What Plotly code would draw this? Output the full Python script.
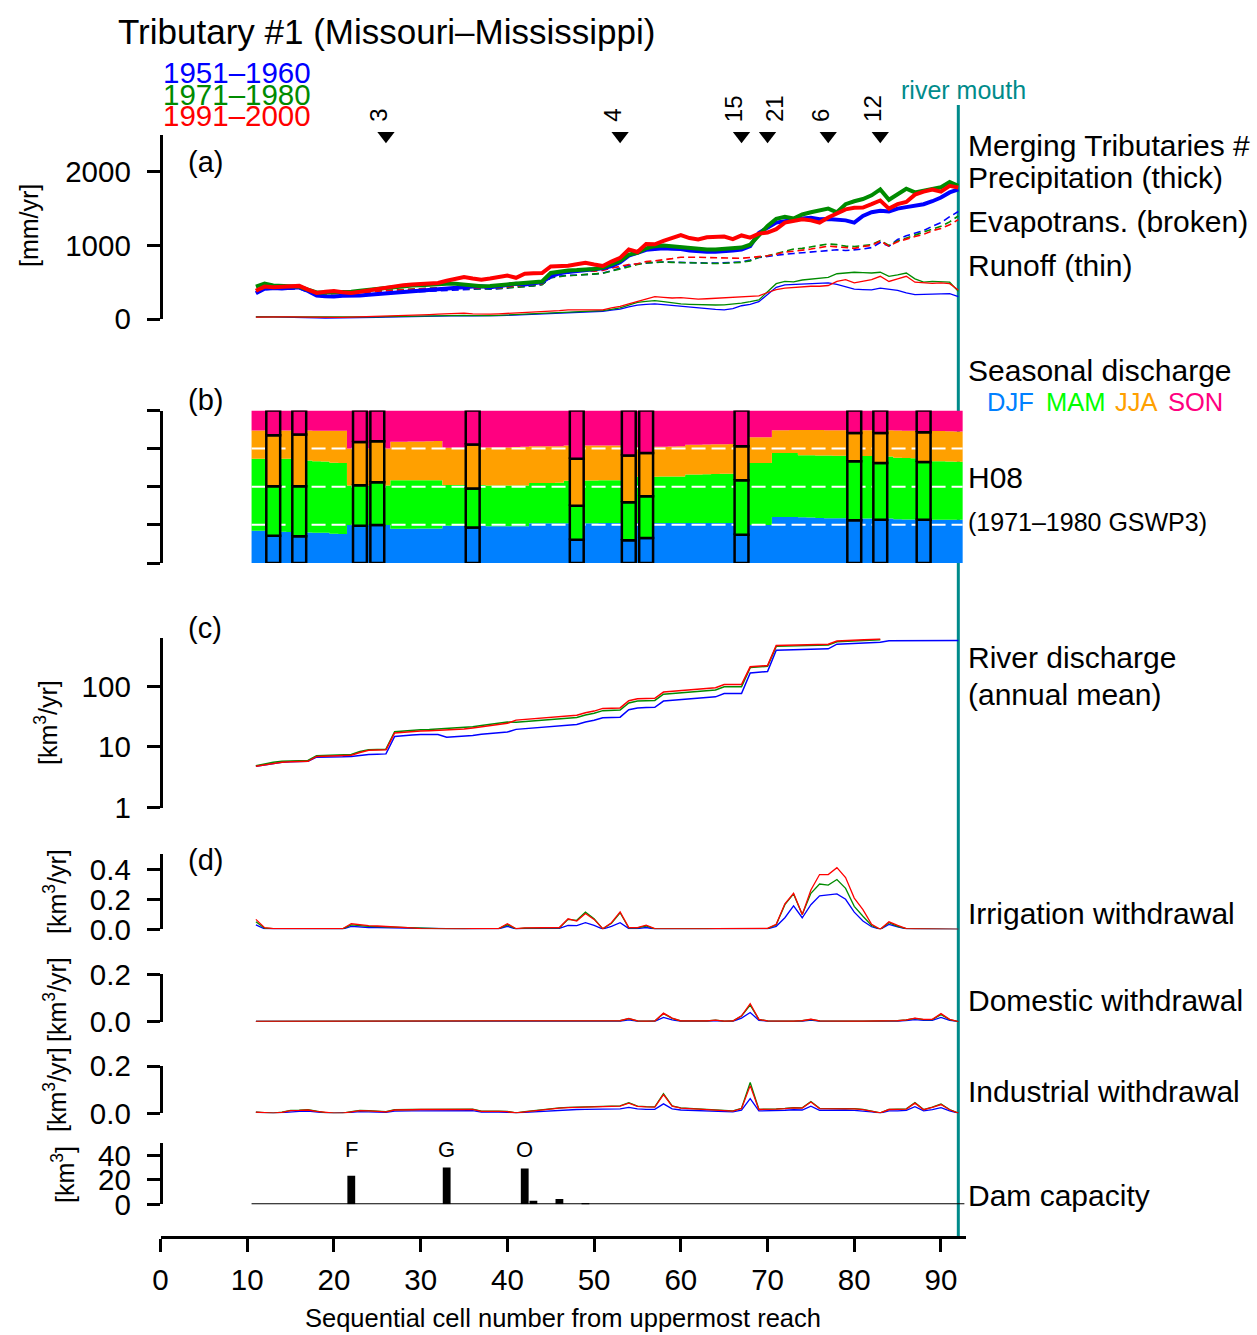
import plotly.graph_objects as go

W, H = 1257, 1335
FONT = "Liberation Sans, Arial, Helvetica, sans-serif"


def px(x):
    return x / W


def py(y):
    return 1 - y / H


# ---------------------------------------------------------------- data
cells = list(range(11, 93))          # sequential cell number (main stem)
river_mouth_cell = 92

period_labels = ["1951–1960", "1971–1980", "1991–2000"]
period_colors = ["#0000FF", "#008B00", "#FF0000"]

# (a) precipitation [mm/yr] (thick)
precip_1951 = [350, 410, 420, 415, 425, 430, 380, 320, 310, 305,
               315, 315, 320, 330, 340, 350, 360, 370, 380, 380,
               390, 400, 410, 420, 430, 440, 445, 430, 445, 460,
               480, 470, 480, 500, 580, 620, 640, 650, 660, 670,
               690, 720, 770, 860, 900, 940, 950, 960, 955, 950,
               930, 920, 915, 915, 920, 930, 945, 990, 1170, 1240,
               1310, 1330, 1350, 1365, 1375, 1355, 1360, 1350, 1340, 1310,
               1400, 1450, 1470, 1460, 1500, 1520, 1545, 1560, 1600, 1650,
               1720, 1760]
precip_1971 = [440, 480, 455, 450, 445, 440, 400, 360, 360, 360,
               365, 370, 385, 400, 410, 420, 430, 445, 455, 460,
               470, 480, 480, 480, 470, 455, 445, 450, 460, 470,
               490, 495, 505, 510, 625, 645, 660, 665, 670, 680,
               700, 740, 790, 875, 900, 960, 990, 1000, 990, 970,
               960, 950, 945, 945, 950, 960, 970, 1010, 1130, 1265,
               1360, 1390, 1365, 1420, 1450, 1470, 1500, 1450, 1560, 1600,
               1630, 1680, 1760, 1620, 1700, 1770, 1720, 1740, 1770, 1790,
               1860, 1810]
precip_1991 = [383, 440, 430, 440, 445, 450, 400, 355, 370, 380,
               365, 355, 370, 390, 400, 420, 445, 460, 470, 480,
               485, 490, 520, 550, 570, 550, 535, 550, 570, 590,
               560, 615, 620, 625, 715, 720, 725, 745, 765, 740,
               720, 780, 830, 945, 910, 1020, 1015, 1060, 1100, 1140,
               1100, 1080, 1110, 1115, 1120, 1085, 1135, 1105, 1160, 1175,
               1220, 1310, 1330, 1355, 1340, 1310, 1380, 1440, 1490, 1510,
               1515, 1560, 1610, 1500, 1560, 1590, 1690, 1730, 1760, 1730,
               1810, 1785]

# (a) evapotranspiration [mm/yr] (broken)
evap_1951 = [350, 400, 405, 400, 405, 410, 370, 320, 315, 310,
             315, 315, 320, 330, 340, 350, 355, 365, 370, 375,
             380, 385, 390, 400, 405, 410, 410, 405, 410, 420,
             435, 440, 450, 470, 560, 585, 595, 600, 605, 610,
             625, 655, 690, 730, 750, 765, 770, 775, 770, 768,
             765, 762, 760, 760, 762, 765, 775, 800, 835, 850,
             870, 880, 890, 900, 905, 920, 935, 940, 930, 935,
             950, 970, 1040, 990, 1080, 1130, 1160, 1200, 1260, 1310,
             1390, 1460]
evap_1971 = [390, 440, 425, 420, 420, 425, 390, 345, 345, 345,
             350, 355, 365, 375, 385, 390, 395, 400, 410, 415,
             420, 425, 425, 425, 420, 410, 405, 410, 415, 420,
             435, 440, 450, 465, 560, 580, 590, 595, 600, 605,
             620, 650, 680, 720, 740, 760, 770, 775, 770, 765,
             760, 758, 755, 755, 758, 760, 770, 790, 840, 860,
             890, 930, 950, 960, 980, 1000, 1020, 1010, 990, 985,
             995, 1010, 1065, 1000, 1060, 1100, 1130, 1170, 1220, 1260,
             1320, 1400]
evap_1991 = [370, 420, 415, 420, 425, 430, 390, 340, 340, 345,
             345, 345, 355, 365, 375, 385, 395, 400, 405, 410,
             415, 420, 425, 430, 430, 420, 415, 420, 425, 440,
             450, 460, 470, 480, 600, 630, 640, 650, 655, 650,
             660, 690, 715, 740, 750, 780, 790, 800, 820, 840,
             845, 840, 835, 830, 825, 820, 825, 835, 845, 860,
             880, 910, 920, 930, 950, 970, 990, 980, 965, 960,
             985, 1000, 1060, 990, 1050, 1090, 1120, 1150, 1200, 1230,
             1280, 1350]

# (a) runoff [mm/yr] (thin)
runoff_1951 = [30, 32, 28, 25, 25, 22, 20, 15, 12, 12,
               15, 15, 18, 20, 22, 25, 28, 30, 32, 35,
               38, 40, 42, 45, 45, 42, 40, 42, 45, 50,
               55, 58, 62, 68, 80, 85, 90, 92, 95, 98,
               105, 120, 135, 165, 190, 200, 205, 195, 183, 175,
               165, 150, 140, 130, 125, 140, 180, 200, 235, 330,
               430, 465, 470, 475, 480, 480, 490, 470, 440, 405,
               400, 395, 420, 400, 390, 355, 330, 335, 340, 345,
               345, 305]
runoff_1971 = [30, 35, 30, 28, 28, 25, 22, 20, 20, 20,
               22, 22, 25, 28, 30, 32, 35, 38, 40, 42,
               45, 48, 50, 52, 50, 45, 42, 45, 50, 55,
               65, 68, 72, 78, 90, 95, 100, 100, 105, 108,
               115, 130, 150, 190, 225, 240, 250, 235, 215, 205,
               200, 195, 190, 190, 192, 200, 215, 235, 260, 370,
               480, 510, 505, 530, 545, 550, 565, 615, 625, 635,
               630, 625, 635, 580, 600, 625, 545, 500, 510, 510,
               500, 375]
runoff_1991 = [25, 30, 30, 30, 28, 25, 22, 20, 20, 22,
               22, 25, 28, 30, 32, 35, 40, 45, 50, 55,
               60, 65, 70, 75, 80, 70, 65, 65, 70, 75,
               85, 85, 90, 95, 105, 115, 125, 125, 130, 120,
               125, 150, 170, 205, 240, 270, 305, 295, 285, 290,
               280, 270, 275, 280, 285, 290, 305, 300, 315, 360,
               400, 420, 430, 440, 445, 445, 455, 510, 535, 490,
               510, 535, 580, 510, 545, 580, 500, 490, 485, 490,
               480, 395]

# merging tributaries (triangles)
merge_cells = [26, 53, 67, 70, 77, 83]
merge_ids = ["3", "4", "15", "21", "6", "12"]

# (b) seasonal discharge shares of the main stem (cumulative from bottom)
cum_djf = [0.212, 0.212, 0.211, 0.205, 0.204, 0.203, 0.200, 0.199, 0.198, 0.191,
           0.190, 0.249, 0.249, 0.249, 0.249, 0.249, 0.225, 0.225, 0.225, 0.226,
           0.226, 0.226, 0.245, 0.245, 0.245, 0.245, 0.245, 0.241, 0.241, 0.241,
           0.241, 0.241, 0.260, 0.260, 0.260, 0.260, 0.260, 0.260, 0.260, 0.260,
           0.263, 0.263, 0.263, 0.263, 0.263, 0.263, 0.263, 0.263, 0.263, 0.263,
           0.263, 0.263, 0.263, 0.263, 0.263, 0.263, 0.249, 0.249, 0.249, 0.249,
           0.302, 0.302, 0.301, 0.300, 0.299, 0.295, 0.294, 0.294, 0.293, 0.293,
           0.292, 0.292, 0.291, 0.291, 0.287, 0.286, 0.286, 0.285, 0.284, 0.284,
           0.284, 0.283]
cum_djf_mam = [0.683, 0.683, 0.683, 0.683, 0.683, 0.682, 0.672, 0.668, 0.665, 0.657,
               0.655, 0.508, 0.508, 0.508, 0.508, 0.508, 0.543, 0.543, 0.543, 0.543,
               0.543, 0.543, 0.512, 0.512, 0.512, 0.512, 0.512, 0.508, 0.508, 0.508,
               0.508, 0.508, 0.525, 0.525, 0.525, 0.527, 0.540, 0.540, 0.541, 0.541,
               0.542, 0.542, 0.543, 0.565, 0.565, 0.566, 0.566, 0.567, 0.568, 0.568,
               0.580, 0.581, 0.582, 0.584, 0.585, 0.586, 0.595, 0.656, 0.656, 0.656,
               0.722, 0.722, 0.721, 0.707, 0.706, 0.705, 0.705, 0.704, 0.703, 0.702,
               0.702, 0.701, 0.700, 0.699, 0.690, 0.688, 0.687, 0.686, 0.668, 0.667,
               0.665, 0.664]
cum_djf_mam_jja = [0.869, 0.869, 0.869, 0.869, 0.869, 0.869, 0.869, 0.868, 0.868, 0.868,
                   0.867, 0.750, 0.750, 0.750, 0.750, 0.750, 0.795, 0.795, 0.796, 0.797,
                   0.799, 0.800, 0.755, 0.755, 0.755, 0.755, 0.755, 0.757, 0.758, 0.758,
                   0.760, 0.762, 0.766, 0.766, 0.766, 0.766, 0.770, 0.770, 0.770, 0.770,
                   0.770, 0.770, 0.770, 0.760, 0.760, 0.761, 0.762, 0.763, 0.764, 0.765,
                   0.775, 0.776, 0.777, 0.778, 0.779, 0.780, 0.788, 0.825, 0.825, 0.825,
                   0.871, 0.871, 0.872, 0.872, 0.872, 0.872, 0.871, 0.871, 0.871, 0.870,
                   0.870, 0.870, 0.870, 0.870, 0.869, 0.868, 0.868, 0.867, 0.866, 0.865,
                   0.864, 0.862]
season_names = ["DJF", "MAM", "JJA", "SON"]
season_colors = ["#0080FF", "#00FF00", "#FFA000", "#FF0080"]

# (b) merging tributaries: seasonal shares (cumulative from bottom)
trib_cells = [13, 16, 23, 25, 36, 48, 54, 56, 67, 80, 83, 88]
trib_djf = [0.179, 0.175, 0.245, 0.249, 0.232, 0.153, 0.149, 0.164, 0.186, 0.280, 0.284, 0.284]
trib_djf_mam = [0.503, 0.503, 0.510, 0.530, 0.488, 0.376, 0.398, 0.438, 0.543, 0.667, 0.656, 0.663]
trib_djf_mam_jja = [0.838, 0.842, 0.794, 0.799, 0.777, 0.683, 0.705, 0.722, 0.766, 0.853, 0.853, 0.858]

# (c) river discharge, annual mean [km3/yr]
discharge_1951 = [4.8, 5.1, 5.4, 5.6, 5.7, 5.8, 5.8, 6.8, 6.8, 6.8,
                  6.9, 7.0, 7.3, 7.5, 7.6, 7.7, 14.9, 15.5, 15.8, 16.0,
                  16.0, 16.0, 14.5, 14.7, 14.9, 15.5, 16.2, 16.8, 17.2, 17.6,
                  19.5, 20.0, 20.5, 21.0, 21.4, 21.8, 22.5, 23.5, 25.7, 27.5,
                  30.4, 30.8, 31.0, 41.0, 44.0, 44.5, 45.0, 57.0, 58.5, 60.0,
                  61.0, 62.0, 64.0, 67.0, 76.0, 76.0, 76.0, 166, 170, 175,
                  393, 396, 400, 403, 406, 410, 413, 494, 500, 505,
                  510, 520, 530, 561, 561, 562, 562, 563, 563, 564,
                  564, 565]
discharge_1971 = [4.9, 5.3, 5.6, 5.8, 5.9, 6.0, 6.0, 7.2, 7.3, 7.3,
                  7.4, 7.5, 8.4, 9.0, 9.1, 9.2, 17.9, 18.4, 18.9, 19.2,
                  19.4, 19.7, 20.0, 20.3, 20.7, 21.5, 22.6, 23.6, 24.7, 25.7,
                  25.5, 26.1, 26.8, 27.4, 28.0, 28.5, 29.4, 30.7, 33.6, 35.9,
                  39.7, 40.2, 40.5, 53.2, 57.0, 57.7, 58.4, 74.0, 75.9, 77.8,
                  79.1, 80.4, 83.0, 86.9, 98.4, 98.4, 98.4, 203, 208, 213,
                  454, 457, 462, 466, 469, 473, 476, 541, 548, 554,
                  559, 570, 581, None, None, None, None, None, None, None,
                  None, None]
discharge_1991 = [4.8, 5.1, 5.4, 5.6, 5.7, 5.8, 5.8, 7.0, 7.1, 7.1,
                  7.2, 7.3, 8.1, 8.8, 8.9, 9.0, 17.0, 17.5, 18.0, 18.3,
                  18.5, 18.8, 19.0, 19.3, 19.7, 20.5, 21.5, 22.5, 23.5, 24.5,
                  27.7, 28.4, 29.1, 29.8, 30.4, 31.0, 32.0, 33.4, 36.5, 39.0,
                  43.2, 43.7, 44.0, 57.8, 62.0, 62.7, 63.5, 80.4, 82.5, 84.6,
                  86.0, 87.4, 90.2, 94.5, 107, 107, 107, 209, 214, 220,
                  468, 471, 476, 480, 483, 488, 491, 558, 565, 571,
                  576, 588, 599, None, None, None, None, None, None, None,
                  None, None]

# (d) irrigation withdrawal [km3/yr]
irrig_1951 = [0.030, 0.003, 0.002, 0.002, 0.002, 0.002, 0.002, 0.001, 0.001, 0.001,
              0.002, 0.020, 0.015, 0.012, 0.011, 0.010, 0.009, 0.006, 0.005, 0.003,
              0.002, 0.002, 0.002, 0.002, 0.002, 0.002, 0.002, 0.002, 0.003, 0.020,
              0.002, 0.005, 0.006, 0.005, 0.005, 0.006, 0.026, 0.024, 0.044, 0.026,
              0.002, 0.020, 0.044, 0.005, 0.005, 0.012, 0.002, 0.002, 0.002, 0.002,
              0.002, 0.002, 0.002, 0.002, 0.002, 0.002, 0.002, 0.002, 0.002, 0.003,
              0.020, 0.077, 0.157, 0.077, 0.164, 0.223, 0.229, 0.236, 0.200, 0.114,
              0.055, 0.017, 0.000, 0.033, 0.017, 0.003, 0.002, 0.002, 0.001, 0.001,
              0.001, 0.000]
irrig_1971 = [0.050, 0.008, 0.004, 0.004, 0.003, 0.004, 0.003, 0.003, 0.002, 0.002,
              0.003, 0.030, 0.024, 0.020, 0.018, 0.016, 0.015, 0.010, 0.008, 0.004,
              0.003, 0.003, 0.003, 0.003, 0.003, 0.003, 0.003, 0.003, 0.004, 0.030,
              0.003, 0.008, 0.009, 0.008, 0.008, 0.010, 0.066, 0.060, 0.114, 0.070,
              0.003, 0.040, 0.110, 0.009, 0.009, 0.022, 0.003, 0.003, 0.003, 0.003,
              0.003, 0.003, 0.003, 0.003, 0.003, 0.003, 0.003, 0.003, 0.003, 0.005,
              0.030, 0.164, 0.236, 0.098, 0.240, 0.302, 0.295, 0.332, 0.273, 0.153,
              0.087, 0.025, 0.000, 0.044, 0.020, 0.004, 0.003, 0.003, 0.002, 0.001,
              0.001, 0.000]
irrig_1991 = [0.066, 0.011, 0.005, 0.005, 0.004, 0.005, 0.004, 0.003, 0.003, 0.003,
              0.004, 0.037, 0.028, 0.024, 0.022, 0.020, 0.018, 0.012, 0.010, 0.005,
              0.004, 0.004, 0.003, 0.003, 0.003, 0.004, 0.004, 0.003, 0.005, 0.037,
              0.004, 0.010, 0.011, 0.010, 0.009, 0.012, 0.070, 0.055, 0.105, 0.066,
              0.004, 0.044, 0.116, 0.011, 0.011, 0.028, 0.004, 0.003, 0.003, 0.004,
              0.004, 0.004, 0.003, 0.004, 0.004, 0.003, 0.003, 0.003, 0.004, 0.006,
              0.033, 0.170, 0.240, 0.098, 0.262, 0.365, 0.365, 0.411, 0.345, 0.208,
              0.131, 0.033, 0.000, 0.050, 0.026, 0.004, 0.003, 0.003, 0.002, 0.001,
              0.001, 0.000]

# (d) domestic withdrawal [km3/yr]
domestic_1951 = [0.001, 0.001, 0.001, 0.001, 0.001, 0.001, 0.001, 0.001, 0.001, 0.001,
                 0.001, 0.001, 0.001, 0.001, 0.001, 0.001, 0.001, 0.001, 0.001, 0.001,
                 0.001, 0.001, 0.001, 0.001, 0.001, 0.002, 0.001, 0.001, 0.001, 0.001,
                 0.001, 0.001, 0.001, 0.001, 0.001, 0.001, 0.001, 0.001, 0.001, 0.001,
                 0.002, 0.002, 0.002, 0.008, 0.002, 0.001, 0.002, 0.018, 0.008, 0.002,
                 0.001, 0.001, 0.002, 0.004, 0.001, 0.002, 0.015, 0.039, 0.006, 0.002,
                 0.001, 0.001, 0.001, 0.002, 0.007, 0.002, 0.001, 0.001, 0.001, 0.001,
                 0.001, 0.001, 0.001, 0.001, 0.002, 0.005, 0.009, 0.006, 0.006, 0.018,
                 0.006, 0.000]
domestic_1971 = [0.001, 0.001, 0.001, 0.001, 0.001, 0.001, 0.001, 0.001, 0.001, 0.001,
                 0.001, 0.001, 0.001, 0.001, 0.001, 0.001, 0.001, 0.001, 0.001, 0.001,
                 0.001, 0.001, 0.001, 0.001, 0.001, 0.004, 0.001, 0.001, 0.001, 0.001,
                 0.001, 0.001, 0.001, 0.001, 0.001, 0.001, 0.001, 0.001, 0.001, 0.002,
                 0.003, 0.003, 0.004, 0.013, 0.003, 0.002, 0.003, 0.034, 0.014, 0.003,
                 0.002, 0.002, 0.003, 0.007, 0.002, 0.003, 0.024, 0.070, 0.010, 0.003,
                 0.002, 0.002, 0.002, 0.004, 0.010, 0.003, 0.002, 0.002, 0.002, 0.002,
                 0.002, 0.002, 0.002, 0.002, 0.004, 0.008, 0.014, 0.009, 0.009, 0.030,
                 0.009, 0.000]
domestic_1991 = [0.001, 0.001, 0.001, 0.001, 0.001, 0.001, 0.001, 0.001, 0.001, 0.001,
                 0.001, 0.001, 0.001, 0.001, 0.001, 0.001, 0.001, 0.001, 0.001, 0.001,
                 0.001, 0.001, 0.001, 0.001, 0.001, 0.004, 0.001, 0.001, 0.001, 0.001,
                 0.001, 0.001, 0.001, 0.001, 0.001, 0.001, 0.001, 0.001, 0.001, 0.002,
                 0.003, 0.003, 0.004, 0.014, 0.003, 0.002, 0.003, 0.036, 0.015, 0.003,
                 0.002, 0.002, 0.003, 0.007, 0.002, 0.003, 0.025, 0.076, 0.010, 0.003,
                 0.002, 0.002, 0.002, 0.004, 0.011, 0.003, 0.002, 0.002, 0.002, 0.002,
                 0.002, 0.002, 0.002, 0.002, 0.004, 0.008, 0.015, 0.010, 0.010, 0.034,
                 0.010, 0.000]

# (d) industrial withdrawal [km3/yr]
industrial_1951 = [0.004, 0.001, 0.001, 0.003, 0.007, 0.008, 0.009, 0.005, 0.002, 0.001,
                   0.001, 0.004, 0.007, 0.006, 0.005, 0.004, 0.009, 0.008, 0.010, 0.010,
                   0.010, 0.011, 0.011, 0.012, 0.012, 0.011, 0.005, 0.006, 0.005, 0.004,
                   0.001, 0.004, 0.006, 0.010, 0.013, 0.014, 0.015, 0.016, 0.017, 0.017,
                   0.018, 0.019, 0.019, 0.025, 0.019, 0.017, 0.017, 0.040, 0.019, 0.014,
                   0.013, 0.010, 0.008, 0.008, 0.006, 0.006, 0.013, 0.062, 0.010, 0.010,
                   0.012, 0.013, 0.015, 0.014, 0.030, 0.013, 0.013, 0.014, 0.014, 0.012,
                   0.010, 0.006, 0.001, 0.010, 0.010, 0.012, 0.028, 0.010, 0.016, 0.024,
                   0.010, 0.001]
industrial_1971 = [0.005, 0.002, 0.001, 0.005, 0.012, 0.013, 0.015, 0.009, 0.003, 0.001,
                   0.001, 0.007, 0.012, 0.011, 0.009, 0.007, 0.015, 0.014, 0.016, 0.017,
                   0.017, 0.018, 0.018, 0.019, 0.019, 0.018, 0.009, 0.010, 0.009, 0.008,
                   0.002, 0.007, 0.011, 0.017, 0.021, 0.023, 0.025, 0.026, 0.027, 0.028,
                   0.029, 0.031, 0.031, 0.045, 0.030, 0.028, 0.027, 0.083, 0.031, 0.023,
                   0.021, 0.017, 0.014, 0.013, 0.011, 0.010, 0.021, 0.130, 0.017, 0.017,
                   0.019, 0.021, 0.024, 0.023, 0.050, 0.021, 0.021, 0.022, 0.023, 0.020,
                   0.017, 0.011, 0.002, 0.017, 0.017, 0.019, 0.045, 0.016, 0.026, 0.039,
                   0.016, 0.001]
industrial_1991 = [0.005, 0.002, 0.001, 0.004, 0.011, 0.012, 0.014, 0.008, 0.003, 0.001,
                   0.001, 0.006, 0.011, 0.010, 0.008, 0.006, 0.014, 0.013, 0.015, 0.016,
                   0.016, 0.017, 0.017, 0.018, 0.018, 0.017, 0.008, 0.009, 0.008, 0.007,
                   0.002, 0.006, 0.010, 0.016, 0.020, 0.022, 0.024, 0.025, 0.026, 0.027,
                   0.028, 0.030, 0.030, 0.043, 0.029, 0.027, 0.026, 0.079, 0.030, 0.022,
                   0.020, 0.016, 0.013, 0.012, 0.010, 0.009, 0.020, 0.117, 0.016, 0.016,
                   0.018, 0.020, 0.023, 0.022, 0.048, 0.020, 0.020, 0.021, 0.022, 0.019,
                   0.016, 0.010, 0.002, 0.016, 0.016, 0.018, 0.043, 0.015, 0.025, 0.037,
                   0.015, 0.001]

# dam capacity [km3]
dam_cells = [22, 33, 42, 43, 46, 49]
dam_capacity = [23.3, 30.0, 29.2, 2.8, 4.4, 1.1]
dam_names = ["F", "G", "O", "", "", ""]

# ---------------------------------------------------------------- figure
fig = go.Figure()
periods = list(zip(period_colors,
                   [precip_1951, precip_1971, precip_1991],
                   [evap_1951, evap_1971, evap_1991],
                   [runoff_1951, runoff_1971, runoff_1991],
                   [discharge_1951, discharge_1971, discharge_1991],
                   [irrig_1951, irrig_1971, irrig_1991],
                   [domestic_1951, domestic_1971, domestic_1991],
                   [industrial_1951, industrial_1971, industrial_1991]))


def line(x, y, axis, color, width, dash=None):
    ln = dict(color=color, width=width)
    if dash:
        ln["dash"] = dash
    return go.Scatter(x=x, y=y, xaxis="x", yaxis=axis, mode="lines", line=ln,
                      hoverinfo="skip", showlegend=False)


# (a)
for col, p, e, r, *_ in periods:
    fig.add_trace(line(cells, r, "y", col, 1.3))
for col, p, e, r, *_ in periods:
    fig.add_trace(line(cells, e, "y", col, 1.6, dash="7px,4px"))
for col, p, e, r, *_ in periods:
    fig.add_trace(line(cells, p, "y", col, 4.0))

fig.add_trace(go.Scatter(x=merge_cells, y=[2490] * len(merge_cells), xaxis="x", yaxis="y",
                         mode="markers", cliponaxis=False,
                         marker=dict(symbol="triangle-down", size=15, color="black"),
                         hoverinfo="skip", showlegend=False))

# (b) stacked seasonal shares (step areas)
edges = [c - 0.5 for c in cells] + [cells[-1] + 0.5]
stack_tops = [cum_djf, cum_djf_mam, cum_djf_mam_jja, [1.0 for _ in cells]]
for k, (top, col) in enumerate(zip(stack_tops, season_colors)):
    fig.add_trace(go.Scatter(x=edges, y=list(top) + [top[-1]], xaxis="x", yaxis="y2",
                             mode="lines", line=dict(width=0, shape="hv", color=col),
                             fill="tozeroy" if k == 0 else "tonexty", fillcolor=col,
                             hoverinfo="skip", showlegend=False))

for q in [0.25, 0.5, 0.75]:
    fig.add_trace(go.Scatter(x=[edges[0], edges[-1]], y=[q, q], xaxis="x", yaxis="y2",
                             mode="lines", line=dict(color="white", width=2, dash="14px,6px"),
                             hoverinfo="skip", showlegend=False))

half = 0.8
trib_levels = [[0.0] * len(trib_cells), trib_djf, trib_djf_mam, trib_djf_mam_jja, [1.0] * len(trib_cells)]
for k, col in enumerate(season_colors):
    xs, ys = [], []
    for i, c in enumerate(trib_cells):
        lo, hi = trib_levels[k][i], trib_levels[k + 1][i]
        xs += [c - half, c + half, c + half, c - half, c - half, None]
        ys += [lo, lo, hi, hi, lo, None]
    fig.add_trace(go.Scatter(x=xs, y=ys, xaxis="x", yaxis="y2", mode="lines",
                             fill="toself", fillcolor=col,
                             line=dict(color="black", width=2.5),
                             hoverinfo="skip", showlegend=False))

# (c)
for col, p, e, r, q, *_ in periods:
    fig.add_trace(line(cells, q, "y3", col, 1.5))

# (d)
for col, p, e, r, q, irr, dom, ind in periods:
    fig.add_trace(line(cells, irr, "y4", col, 1.3))
    fig.add_trace(line(cells, dom, "y5", col, 1.3))
    fig.add_trace(line(cells, ind, "y6", col, 1.3))

# dams
fig.add_trace(go.Scatter(x=[edges[0], cells[-1] + 0.7], y=[0, 0], xaxis="x", yaxis="y7",
                         mode="lines", line=dict(color="black", width=2),
                         hoverinfo="skip", showlegend=False))
fig.add_trace(go.Bar(x=dam_cells, y=dam_capacity, width=0.9, xaxis="x", yaxis="y7",
                     marker=dict(color="black", line=dict(width=0)),
                     hoverinfo="skip", showlegend=False))

# ---------------------------------------------------------------- axes
AX_X = px(160.5)


def yax(top, bottom, rng, tickvals, ticktext=None, typ="linear", labels=True):
    d = dict(domain=[py(bottom), py(top)], range=rng, type=typ, anchor="free", position=AX_X,
             showline=True, linecolor="black", linewidth=2.5, ticks="outside", ticklen=13,
             tickwidth=2.5, tickcolor="black", tickvals=tickvals, showticklabels=labels,
             tickfont=dict(family=FONT, size=29.5, color="black"), showgrid=False,
             zeroline=False, ticklabelstandoff=10, fixedrange=True, automargin=False)
    if ticktext is not None:
        d["ticktext"] = ticktext
    return d


fig.update_layout(
    width=W, height=H, autosize=False,
    margin=dict(l=0, r=0, t=0, b=0, pad=0, autoexpand=False),
    paper_bgcolor="white", plot_bgcolor="rgba(0,0,0,0)",
    showlegend=False, barmode="overlay",
    font=dict(family=FONT, color="black"),
    xaxis=dict(domain=[px(160.5), px(966)], range=[0, (966 - 160.5) / 8.672],
               anchor="free", position=py(1237), showline=True, linecolor="black",
               linewidth=3, ticks="outside", ticklen=13, tickwidth=2.5, tickcolor="black",
               tickvals=list(range(0, 100, 10)), tickfont=dict(family=FONT, size=29.5, color="black"),
               showgrid=False, zeroline=False, ticklabelstandoff=3, fixedrange=True,
               automargin=False),
    yaxis=yax(135, 319, [0, 2500], [0, 1000, 2000], ["0", "1000", "2000"]),
    yaxis2=yax(410.5, 563, [0, 1], [0, 0.25, 0.5, 0.75, 1], labels=False),
    yaxis3=yax(638.3, 807.7, [0, 2.79], [1, 10, 100], ["1", "10", "100"], typ="log"),
    yaxis4=yax(854.3, 929.3, [0, 0.5], [0, 0.2, 0.4], ["0.0", "0.2", "0.4"]),
    yaxis5=yax(974.3, 1021.7, [0, 0.2], [0, 0.2], ["0.0", "0.2"]),
    yaxis6=yax(1066, 1113.3, [0, 0.2], [0, 0.2], ["0.0", "0.2"]),
    yaxis7=yax(1143, 1204.3, [0, 50], [0, 20, 40], ["0", "20", "40"]),
)

# river mouth line
fig.add_shape(type="line", xref="x", yref="paper", x0=river_mouth_cell, x1=river_mouth_cell,
              y0=py(1237), y1=py(105), line=dict(color="#008B8B", width=3), layer="below")

# ---------------------------------------------------------------- text
ann = []


def text(x, y, s, size, color="black", xanchor="left", yanchor="middle", angle=0, xref="paper"):
    ann.append(dict(x=x if xref != "paper" else px(x), y=py(y), xref=xref, yref="paper", text=s,
                    showarrow=False, xanchor=xanchor, yanchor=yanchor, textangle=angle,
                    font=dict(family=FONT, size=size, color=color)))


text(116, 32, "Tributary #1 (Missouri–Mississippi)", 35)
for lab, col, yy in zip(period_labels, period_colors, [72.5, 94.2, 116]):
    text(313, yy, lab, 29.5, color=col, xanchor="right")
for lab, yy in zip(["(a)", "(b)", "(c)", "(d)"], [162, 400, 628, 860]):
    text(186, yy, lab, 29)

# y-axis titles
text(29, 226, "[mm/yr]", 25, xanchor="center", angle=-90)
text(46, 723, "[km<sup>3</sup>/yr]", 25, xanchor="center", angle=-90)
text(55, 892, "[km<sup>3</sup>/yr]", 25, xanchor="center", angle=-90)
text(55, 1000, "[km<sup>3</sup>/yr]", 25, xanchor="center", angle=-90)
text(55, 1090, "[km<sup>3</sup>/yr]", 25, xanchor="center", angle=-90)
text(63, 1175, "[km<sup>3</sup>]", 25, xanchor="center", angle=-90)

# right-hand labels
for s, yy in [("Merging Tributaries #", 145), ("Precipitation (thick)", 177),
              ("Evapotrans. (broken)", 221), ("Runoff (thin)", 265),
              ("Seasonal discharge", 370), ("H08", 477),
              ("River discharge", 657), ("(annual mean)", 694),
              ("Irrigation withdrawal", 913), ("Domestic withdrawal", 1000),
              ("Industrial withdrawal", 1091), ("Dam capacity", 1195)]:
    text(966, yy, s, 30)
text(966, 522, "(1971–1980 GSWP3)", 25)
for s, col, xx in zip(season_names, season_colors, [985, 1044, 1113, 1166]):
    text(xx, 402, s, 25.5, color=col)

# river mouth label
text(963, 90, "river mouth", 25, color="#008B8B", xanchor="center")

# merging tributary ids
label_shift = [-0.9, -0.9, -0.9, 0.8, -0.9, -0.9]
for c, s, d in zip(merge_cells, merge_ids, label_shift):
    text(c + d, 124, s, 24, xanchor="center", yanchor="bottom", angle=-90, xref="x")

# dam names
for c, s in zip(dam_cells, dam_names):
    if s:
        text(c, 1149, s, 22, xanchor="center", xref="x")

# x-axis title (kept inside the page)
text(563, 1334, "Sequential cell number from uppermost reach", 25.5, xanchor="center",
     yanchor="bottom")

fig.update_layout(annotations=ann)
fig.write_html("out.html", config={"displayModeBar": False},
               post_script="document.body.style.margin='0px';document.body.style.overflow='hidden';")
